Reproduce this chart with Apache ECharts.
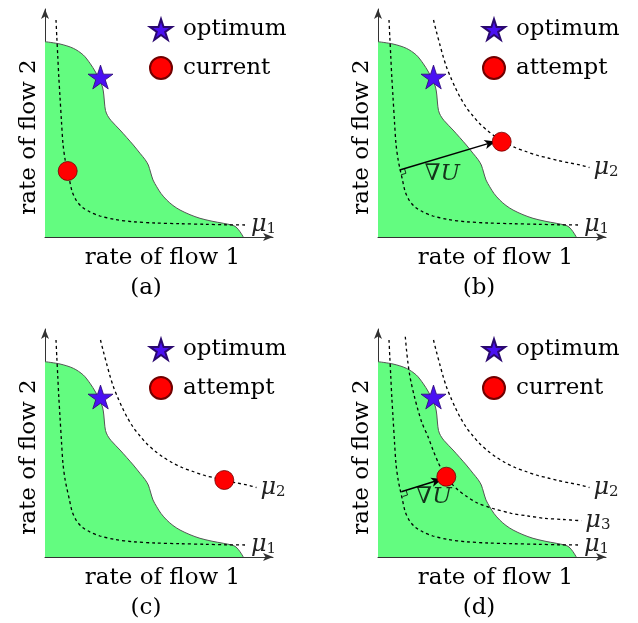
<!DOCTYPE html>
<html>
<head>
<meta charset="utf-8">
<script src="https://cdn.jsdelivr.net/npm/echarts@6/dist/echarts.min.js"></script>
<style>
html,body{margin:0;padding:0;background:#fff;}
#chart{width:638px;height:623px;}
</style>
</head>
<body>
<div id="chart"></div>
<script>
// ---------- data (units: axis units, origin at lower-left of each panel) ----------
const panelTags = ['(a)', '(b)', '(c)', '(d)'];
const xAxisName = 'rate of flow 1';
const yAxisName = 'rate of flow 2';

// boundary of the feasible (green) region
const feasibleBoundary = [
  [0,195.3],[15,193],[28.3,188.7],[38.3,182],[45,173.7],[50.5,165],[54.5,157],[57.5,150],
  [58.8,142],[59.5,134],[60.5,126.5],[62.5,121.5],[66,116.5],[75,107],[88.3,92],[95,83.7],
  [100,77.5],[103.3,72],[105.5,65],[108,57],[111.7,50.3],[116,43.5],[121.7,37],[128,31.5],
  [135,27],[145,22.3],[155,18.7],[167,15.8],[178.3,13.7],[186.7,12],[191,10],[195,5.3],[198.3,0]
];
// level curves
const mu1Curve = [
  [11,217],[11.8,200],[12.8,180],[13.8,160],[15,140],[16.5,115],[18,93],[20,78],[22,68],
  [24.5,57],[27,46],[31,37],[37,30],[45,25],[55,21],[70,17.5],[88,15.3],[110,14],[135,13.3],
  [160,12.7],[182,12.2],[202,12]
];
const mu2Curve = [
  [55.5,217],[58.5,205],[61.7,193],[65,181],[68.5,170],[72.5,160],[77,150],[82,140],[88,130],
  [95,121],[102,113],[110,106],[118,100],[127,94.5],[137,89.5],[148,85.5],[158,82],[170,79],
  [180,76.5],[192,74],[202,72],[211.5,69.5]
];
const mu3Curve = [
  [27.3,220.3],[28.5,207],[30,193.7],[31.5,183],[33.3,173.7],[36.5,160],[40,147],[44,134],
  [50,120.3],[55,107],[60,95],[64,87],[68.3,80.3],[72,75],[80,67],[88,61],[100,53.7],
  [115,48.5],[133.3,43.7],[150,41],[166.7,38.7],[185,37.5],[203.3,36.3]
];
const muNames = ['1', '2', '3'];

// markers
const optimumPoint = [55.5, 160];
const operatingPoints = [[22.7,66],[123.7,95.3],[179.3,77],[68.3,80.3]];
const operatingNames = ['current', 'attempt', 'attempt', 'current'];

// gradient arrows (panels b and d)
const gradArrowB = [[21.7,67],[117.5,95.6]];
const gradArrowD = [[23.3,65.3],[64.2,78.0]];
const perpMarkB = [[23.1,62.2],[27.9,63.7],[26.5,68.4]];
const perpMarkD = [[24.7,60.5],[29.5,62.0],[28.1,66.8]];
const gradLabelB = [64.2,62.9];
const gradLabelD = [55.8,59.5];

// ---------- style / layout ----------
const FONT = 'DejaVu Serif';
const STAR = 'path://M50,2 L61.2,36.5 L97.6,36.5 L68.2,57.9 L79.4,92.5 L50,71.1 L20.6,92.5 L31.8,57.9 L2.4,36.5 L38.8,36.5 Z';
const GREEN = '#63fc80';
const STARCOLOR = '#4a10f2';
const RED = '#ff0000';
const panelPos = [[45,9],[378,9],[45,329],[378,329]];
const AX = 228;

const muRich = {
  m: {fontFamily: FONT, fontStyle: 'italic', fontSize: 24, color: '#222', lineHeight: 24},
  s: {fontFamily: FONT, fontSize: 15, color: '#222', lineHeight: 7, verticalAlign: 'bottom'}
};
const gradRich = {
  n: {fontFamily: FONT, fontSize: 23, color: '#000'},
  u: {fontFamily: FONT, fontStyle: 'italic', fontSize: 23, color: '#000'}
};

const grids = [], xAxes = [], yAxes = [], series = [], legends = [], titles = [];

function levelSeries(i, data, idx) {
  return {
    type: 'line', name: 'mu' + muNames[idx], xAxisIndex: i, yAxisIndex: i,
    data: data, smooth: 0.3, showSymbol: false, symbol: 'none', silent: true, z: 3,
    lineStyle: {color: '#000', width: 1.3, type: [3, 3]},
    endLabel: {show: true, distance: 4, formatter: '{m|μ}{s|' + muNames[idx] + '}', rich: muRich}
  };
}

for (let i = 0; i < 4; i++) {
  const [L, T] = panelPos[i];
  grids.push({left: L, top: T, width: AX, height: AX, containLabel: false, outerBoundsMode: 'none'});
  const axisLine = {show: true, onZero: false, symbol: ['none', 'arrow'], symbolSize: [6, 10],
                    lineStyle: {color: '#333', width: 1}};
  xAxes.push({gridIndex: i, type: 'value', min: 0, max: AX, axisLine: axisLine,
    axisTick: {show: false}, axisLabel: {show: false}, splitLine: {show: false},
    name: xAxisName, nameLocation: 'middle', nameGap: 10,
    nameTextStyle: {fontFamily: FONT, fontSize: 23, color: '#000', padding: [0, 0, 0, 7]}});
  yAxes.push({gridIndex: i, type: 'value', min: 0, max: AX, axisLine: axisLine,
    axisTick: {show: false}, axisLabel: {show: false}, splitLine: {show: false},
    name: yAxisName, nameLocation: 'middle', nameGap: 4,
    nameTextStyle: {fontFamily: FONT, fontSize: 23, color: '#000', padding: [0, 28, 0, 0]}});

  // feasible region
  series.push({type: 'line', name: 'region' + i, xAxisIndex: i, yAxisIndex: i,
    data: feasibleBoundary, smooth: 0.3, showSymbol: false, symbol: 'none', silent: true, z: 1,
    lineStyle: {color: '#555', width: 1},
    areaStyle: {color: GREEN, opacity: 1}});

  // level curves
  series.push(levelSeries(i, mu1Curve, 0));
  if (i >= 1) series.push(levelSeries(i, mu2Curve, 1));
  if (i === 3) series.push(levelSeries(i, mu3Curve, 2));

  // gradient arrow
  if (i === 1 || i === 3) {
    const arr = i === 1 ? gradArrowB : gradArrowD;
    const perp = i === 1 ? perpMarkB : perpMarkD;
    const lab = i === 1 ? gradLabelB : gradLabelD;
    series.push({type: 'line', name: 'perp' + i, xAxisIndex: i, yAxisIndex: i,
      data: perp, showSymbol: false, symbol: 'none', silent: true, z: 4,
      lineStyle: {color: '#000', width: 0.8},
      markLine: {silent: true, symbol: ['none', 'arrow'], symbolSize: [7, 11],
        lineStyle: {color: '#000', width: 1.5, type: 'solid'}, label: {show: false},
        emphasis: {disabled: true},
        data: [[{coord: arr[0]}, {coord: arr[1]}]]}});
    series.push({type: 'scatter', name: 'grad' + i, xAxisIndex: i, yAxisIndex: i,
      data: [lab], symbolSize: 2, itemStyle: {color: 'rgba(0,0,0,0)'}, silent: true, z: 4,
      label: {show: true, position: 'inside', formatter: '{n|∇}{u|U}', rich: gradRich}});
  }

  // optimum star and operating point
  series.push({type: 'scatter', name: 'optimum', xAxisIndex: i, yAxisIndex: i,
    data: [optimumPoint], symbol: STAR, symbolSize: 25, symbolKeepAspect: true, z: 5,
    itemStyle: {color: STARCOLOR, borderColor: '#2a0870', borderWidth: 0.8, opacity: 1}});
  series.push({type: 'scatter', name: operatingNames[i], xAxisIndex: i, yAxisIndex: i,
    data: [operatingPoints[i]], symbol: 'circle', symbolSize: 19, z: 5,
    itemStyle: {color: RED, borderColor: '#700000', borderWidth: 0.8, opacity: 1}});

  legends.push({orient: 'vertical', left: L + 104, top: T + 9, padding: 0,
    itemWidth: 22, itemHeight: 22, itemGap: 15, selectedMode: false,
    textStyle: {fontFamily: FONT, fontSize: 23, color: '#000', padding: [0, 0, 0, 6]},
    data: [{name: 'optimum', icon: STAR}, {name: operatingNames[i], icon: 'circle'}]});

  titles.push({text: panelTags[i], left: L + 101, top: T + 268, textAlign: 'center', padding: 0,
    textStyle: {fontFamily: FONT, fontSize: 23, fontWeight: 'normal', color: '#000'}});
}

const chart = echarts.init(document.getElementById('chart'), null, {renderer: 'canvas'});
chart.setOption({
  animation: false,
  backgroundColor: '#fff',
  title: titles,
  legend: legends,
  grid: grids,
  xAxis: xAxes,
  yAxis: yAxes,
  series: series
});
</script>
</body>
</html>
